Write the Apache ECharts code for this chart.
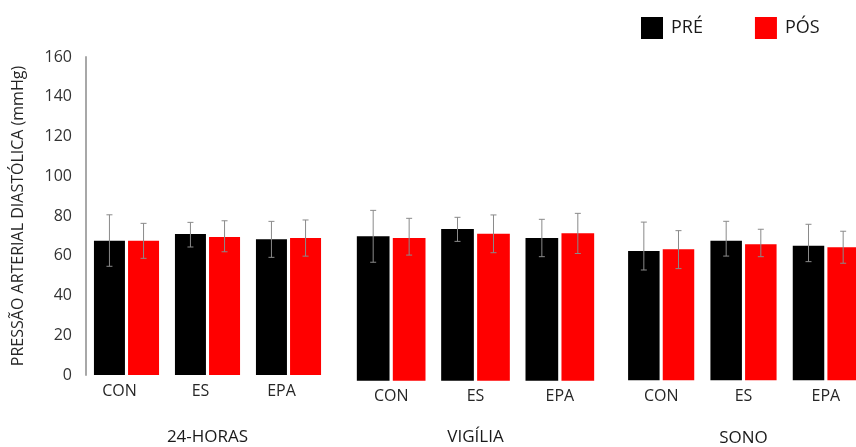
<!DOCTYPE html>
<html>
<head>
<meta charset="utf-8">
<script src="https://cdn.jsdelivr.net/npm/echarts@6/dist/echarts.min.js"></script>
<style>
  html, body { margin: 0; padding: 0; background: #fff; }
  #chart { width: 856px; height: 447px; }
</style>
</head>
<body>
<div id="chart"></div>
<script>
// categories and panels
const categories = ['CON', 'ES', 'EPA'];
const periods = ['24-HORAS', 'VIGÍLIA', 'SONO'];
const seriesNames = ['PRÉ', 'PÓS'];

// means per panel (24-HORAS, VIGÍLIA, SONO), one value per category
const preMean = [[67.6, 70.9, 68.3], [72.7, 76.3, 71.8], [65.1, 70.2, 67.7]];
const posMean = [[67.6, 69.4, 68.9], [71.8, 74.0, 74.2], [65.9, 68.4, 66.9]];

// error bar ends (upper / lower)
const preHigh = [[80.6, 76.8, 77.3], [85.7, 82.2, 81.2], [79.6, 80.0, 78.5]];
const preLow = [[54.7, 64.4, 59.2], [59.6, 70.1, 62.4], [55.5, 62.5, 59.7]];
const posHigh = [[76.3, 77.6, 78.0], [81.7, 83.4, 84.2], [75.3, 76.0, 75.0]];
const posLow = [[58.7, 62.0, 59.8], [63.2, 64.4, 64.0], [56.2, 62.2, 58.9]];

// y axis ticks
const yMin = 0, yMax = 160, yStep = 20;

const FONT = "'Open Sans', sans-serif";
const colors = ['#000000', '#ff0000'];

// panel layout (style only)
const panels = [
  { left: 86, width: 243, top: 57, height: 318, barWidth: 31, labelPad: 14, nameGap: 54 },
  { left: 349, width: 253, top: 62.7, height: 318, barWidth: 32.7, labelPad: 0, nameGap: 48 },
  { left: 620, width: 247, top: 62.3, height: 318, barWidth: 31.5, labelPad: 0, nameGap: 49 }
];

const chart = echarts.init(document.getElementById('chart'));

const grid = [], xAxis = [], yAxis = [], series = [];

panels.forEach((p, i) => {
  grid.push({
    left: p.left, width: p.width, top: p.top, height: p.height,
    containLabel: false, outerBoundsMode: 'none'
  });

  xAxis.push({
    type: 'category',
    gridIndex: i,
    data: categories,
    axisLine: { show: false },
    axisTick: { show: false },
    axisLabel: {
      fontFamily: FONT, fontSize: 16, color: '#262626', margin: 8,
      padding: [0, p.labelPad, 0, 0]
    },
    name: periods[i],
    nameLocation: 'middle',
    nameGap: p.nameGap,
    nameTextStyle: { fontFamily: FONT, fontSize: 17, color: '#1a1a1a' }
  });

  yAxis.push({
    type: 'value',
    gridIndex: i,
    min: yMin, max: yMax, interval: yStep,
    show: i === 0,
    splitLine: { show: false },
    axisTick: { show: false },
    axisLine: { show: true, lineStyle: { color: '#a8a8a8', width: 2 } },
    axisLabel: { fontFamily: FONT, fontSize: 16, color: '#333', margin: 14 },
    name: i === 0 ? 'PRESSÃO ARTERIAL DIASTÓLICA (mmHg)' : '',
    nameLocation: 'middle',
    nameGap: 60,
    nameTextStyle: { fontFamily: FONT, fontSize: 16, color: '#262626' }
  });

  [preMean, posMean].forEach((means, s) => {
    series.push({
      name: seriesNames[s],
      type: 'bar',
      xAxisIndex: i,
      yAxisIndex: i,
      barWidth: p.barWidth,
      barGap: '10%',
      itemStyle: { color: colors[s] },
      data: means[i]
    });
  });

  // error bars for both series in this panel
  const errData = [];
  categories.forEach((c, k) => {
    errData.push([k, preLow[i][k], preHigh[i][k], 0]);
    errData.push([k, posLow[i][k], posHigh[i][k], 1]);
  });
  series.push({
    name: 'erro',
    type: 'custom',
    xAxisIndex: i,
    yAxisIndex: i,
    z: 5,
    data: errData,
    renderItem: function (params, api) {
      const sign = api.value(3) === 0 ? -1 : 1;
      const off = sign * p.barWidth * 0.55;
      const lo = api.coord([api.value(0), api.value(1)]);
      const hi = api.coord([api.value(0), api.value(2)]);
      const x = lo[0] + off;
      const cap = 3;
      const style = { stroke: '#8a8a8a', lineWidth: 1 };
      return {
        type: 'group',
        children: [
          { type: 'line', shape: { x1: x, y1: lo[1], x2: x, y2: hi[1] }, style: style },
          { type: 'line', shape: { x1: x - cap, y1: hi[1], x2: x + cap, y2: hi[1] }, style: style },
          { type: 'line', shape: { x1: x - cap, y1: lo[1], x2: x + cap, y2: lo[1] }, style: style }
        ]
      };
    }
  });
});

chart.setOption({
  animation: false,
  backgroundColor: '#fff',
  textStyle: { fontFamily: FONT },
  legend: {
    data: seriesNames,
    left: 636,
    top: 12,
    icon: 'rect',
    itemWidth: 22,
    itemHeight: 22,
    itemGap: 52,
    textStyle: { fontFamily: FONT, fontSize: 18, color: '#1a1a1a', padding: [0, 0, 0, 3] }
  },
  grid: grid,
  xAxis: xAxis,
  yAxis: yAxis,
  series: series
});
</script>
</body>
</html>
